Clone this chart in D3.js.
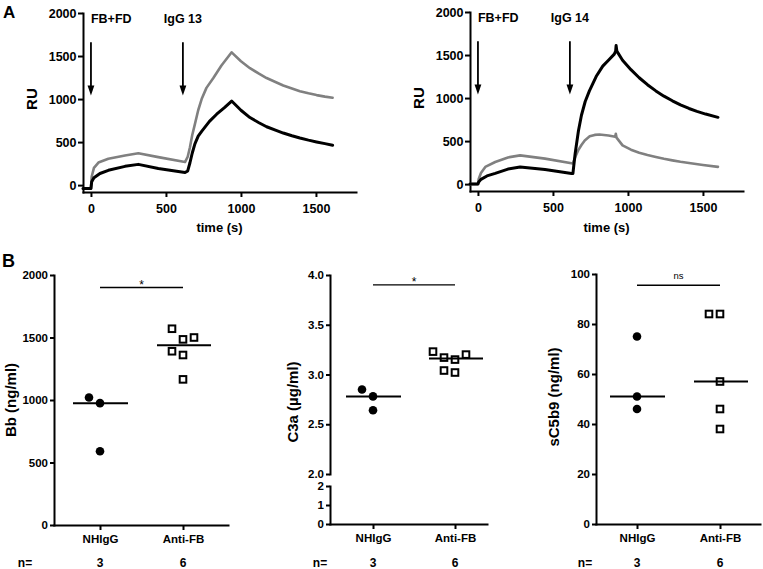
<!DOCTYPE html>
<html><head><meta charset="utf-8">
<script src="https://cdn.jsdelivr.net/npm/d3@7"></script>
<style>
body{margin:0;background:#fff;}
</style></head>
<body><svg id="c" width="763" height="569" xmlns="http://www.w3.org/2000/svg"></svg>
<script>
// ================= DATA =================
// Panel A: SPR sensorgrams (time in s, response in RU)
const timeTicks = [0, 500, 1000, 1500];
const ruTicks = [0, 500, 1000, 1500, 2000];
const injectTimes = [0, 613];
const injectLabels13 = ["FB+FD", "IgG 13"];
const injectLabels14 = ["FB+FD", "IgG 14"];

const igg13GrayT  = [-53, 0, 5, 20, 50, 116, 227, 316, 449, 627, 645, 660, 675, 693, 715, 738, 770, 816, 870, 938, 1000, 1060, 1120, 1171, 1230, 1282, 1340, 1393, 1450, 1504, 1560, 1611];
const igg13GrayRU = [-40, -40, 100, 200, 262, 307, 345, 371, 325, 268, 330, 440, 580, 709, 870, 1000, 1130, 1245, 1390, 1543, 1440, 1359, 1295, 1244, 1198, 1157, 1122, 1092, 1067, 1046, 1028, 1015];
const igg13BlackT  = [-53, 0, 5, 20, 60, 116, 227, 316, 449, 627, 645, 660, 675, 693, 715, 738, 790, 838, 890, 938, 1000, 1060, 1120, 1171, 1230, 1282, 1340, 1393, 1450, 1504, 1560, 1611];
const igg13BlackRU = [-40, -40, 40, 85, 135, 172, 218, 241, 192, 146, 165, 260, 370, 480, 570, 625, 740, 824, 900, 977, 870, 785, 725, 678, 638, 605, 574, 548, 523, 502, 482, 463];

const igg14BlackT  = [-53, 0, 5, 20, 60, 115, 200, 281, 447, 624, 633, 648, 670, 690, 715, 743, 788, 832, 870, 909, 918, 921, 926, 964, 1020, 1075, 1130, 1186, 1240, 1296, 1350, 1407, 1460, 1518, 1600];
const igg14BlackRU = [0, 0, 25, 55, 95, 125, 175, 200, 169, 123, 123, 354, 620, 800, 960, 1083, 1250, 1371, 1440, 1510, 1545, 1610, 1545, 1440, 1330, 1236, 1155, 1083, 1022, 968, 920, 879, 845, 814, 776];
const igg14GrayT  = [-53, 0, 5, 20, 49, 115, 200, 281, 447, 633, 650, 668, 690, 712, 745, 778, 810, 870, 915, 919, 924, 964, 1020, 1075, 1130, 1186, 1240, 1296, 1350, 1407, 1500, 1600];
const igg14GrayRU = [0, 0, 60, 130, 200, 257, 310, 334, 296, 240, 320, 392, 455, 507, 555, 572, 576, 565, 550, 585, 540, 450, 400, 365, 338, 315, 294, 276, 260, 246, 222, 200];

// Panel B: scatter with medians
const groups = ["NHIgG", "Anti-FB"];
const nCounts = [3, 6];
const yTitles = ["Bb (ng/ml)", "C3a (\u00b5g/ml)", "sC5b9 (ng/ml)"];
const bbNHIgG = [975, 590, 1020];
const bbAntiFB = [1485, 1360, 1165, 1570, 1500, 1390];
const c3aNHIgG = [2.78, 2.64, 2.85];
const c3aAntiFB = [3.15, 3.02, 3.17, 3.20, 3.23, 3.04];
const sc5b9NHIgG = [75, 51, 46];
const sc5b9AntiFB = [84, 84, 57, 46, 38];
const sigLevels = [1900, 3.9, 95.5];
const sigTexts = ["*", "*", "ns"];
const bbTicks = [0, 500, 1000, 1500, 2000];
const c3aTicksLow = [0, 1, 2];
const c3aTicksHigh = [2.0, 2.5, 3.0, 3.5, 4.0];
const sc5b9Ticks = [0, 20, 40, 60, 80, 100];

// ================= DRAWING =================
const FONT = '"Liberation Sans", Arial, Helvetica, sans-serif';
const svg = d3.select("#c");
svg.append("rect").attr("width", 763).attr("height", 569).attr("fill", "#fff");

function styleAxis(g, fs) {
  g.selectAll("path,line").attr("stroke", "#000").attr("stroke-width", 2);
  g.select(".domain").attr("stroke-linecap", "square");
  g.selectAll("text").attr("font-size", fs).attr("font-weight", "bold")
    .attr("fill", "#000").attr("font-family", FONT);
}
function txt(x, y, s, fs, opt = {}) {
  const t = svg.append("text").attr("x", x).attr("y", y).text(s)
    .attr("font-family", FONT).attr("font-size", fs)
    .attr("font-weight", opt.weight || "bold").attr("fill", "#000")
    .attr("text-anchor", opt.anchor || "start");
  if (opt.rotate) t.attr("transform", `rotate(-90,${x},${y})`);
  return t;
}

// ---- Panel A ----
function sensorPanel(L, series, labels) {
  const x = d3.scaleLinear().domain([-53, 1767]).range(L.xr);
  const y = d3.scaleLinear().domain([-80, 2000]).range(L.yr);
  const gx = svg.append("g").attr("transform", `translate(0,${L.yr[0]})`)
    .call(d3.axisBottom(x).tickValues(timeTicks).tickSize(5).tickSizeOuter(0).tickPadding(7).tickFormat(d3.format("d")));
  styleAxis(gx, 12.5);
  const gy = svg.append("g").attr("transform", `translate(${L.xr[0]},0)`)
    .call(d3.axisLeft(y).tickValues(ruTicks).tickSize(5).tickSizeOuter(0).tickPadding(1.5).tickFormat(d3.format("d")));
  styleAxis(gy, 12.5);

  const line = d3.line().x(d => x(d[0])).y(d => y(d[1]));
  series.forEach(s => {
    svg.append("path").datum(d3.zip(s.t, s.v)).attr("d", line)
      .attr("fill", "none").attr("stroke", s.color).attr("stroke-width", s.w)
      .attr("stroke-linejoin", "round").attr("stroke-linecap", "round");
  });

  injectTimes.forEach((t, i) => {
    const ax = x(t), top = y(1660), tip = y(1040);
    svg.append("line").attr("x1", ax).attr("x2", ax).attr("y1", top).attr("y2", tip - 8)
      .attr("stroke", "#000").attr("stroke-width", 1.8);
    svg.append("path").attr("d", `M${ax - 3.4},${tip - 10}L${ax + 3.4},${tip - 10}L${ax},${tip}Z`).attr("fill", "#000");
    txt(ax, y(1884), labels[i], 12.5, { anchor: i === 0 ? "start" : "middle" });
  });

  txt(L.ruX, y(1000), "RU", 15, { anchor: "middle", rotate: true });
  txt((L.xr[0] + L.xr[1]) / 2, 232, "time (s)", 13, { anchor: "middle" });
}

sensorPanel({ xr: [83, 356], yr: [192, 13], ruX: 37 },
  [{ t: igg13GrayT, v: igg13GrayRU, color: "#808080", w: 2.6 },
   { t: igg13BlackT, v: igg13BlackRU, color: "#000", w: 3 }], injectLabels13);
sensorPanel({ xr: [470, 743], yr: [191, 12], ruX: 424 },
  [{ t: igg14GrayT, v: igg14GrayRU, color: "#808080", w: 2.6 },
   { t: igg14BlackT, v: igg14BlackRU, color: "#000", w: 3 }], injectLabels14);

txt(3, 18, "A", 17);
txt(2, 267, "B", 18);

// ---- Panel B ----
function swarm(values, yfn, spacing, minGap) {
  const placed = [];
  return values.map(v => {
    const py = yfn(v);
    for (const s of [0, -1, 1, -2, 2, -3, 3]) {
      if (!placed.some(p => p.s === s && Math.abs(p.py - py) < minGap)) {
        placed.push({ s, py }); return s * spacing;
      }
    }
    return 0;
  });
}

function dotPanel(L, segs, data, sigLevel, sigText, title) {
  const scales = segs.map(s => d3.scaleLinear().domain(s.d).range(s.r));
  const yfn = v => {
    for (let i = scales.length - 1; i >= 0; i--) if (v >= segs[i].d[0]) return scales[i](v);
    return scales[0](v);
  };
  segs.forEach((s, i) => {
    const g = svg.append("g").attr("transform", `translate(${L.xr[0]},0)`)
      .call(d3.axisLeft(scales[i]).tickValues(s.ticks).tickSize(4).tickSizeOuter(0).tickPadding(2).tickFormat(d3.format(s.fmt)));
    styleAxis(g, 11.5);
  });
  const x0 = d3.scaleLinear().domain([0, 1]).range(L.cat);
  const x = x0.copy().domain([x0.invert(L.xr[0]), x0.invert(L.xr[1])]).range(L.xr);
  const axisY = segs[0].r[0];
  const gx = svg.append("g").attr("transform", `translate(0,${axisY})`)
    .call(d3.axisBottom(x).tickValues([0, 1]).tickSize(5).tickSizeOuter(0).tickPadding(5).tickFormat(i => groups[i]));
  styleAxis(gx, 11.5);

  data.forEach((vals, gi) => {
    const offs = swarm(vals, yfn, 11, 11);
    const cx = x(gi);
    vals.forEach((v, k) => {
      if (gi === 0) {
        svg.append("circle").attr("cx", cx + offs[k]).attr("cy", yfn(v)).attr("r", 4.3).attr("fill", "#000");
      } else {
        svg.append("rect").attr("x", cx + offs[k] - 3.3).attr("y", yfn(v) - 3.3)
          .attr("width", 6.6).attr("height", 6.6).attr("fill", "#fff")
          .attr("stroke", "#000").attr("stroke-width", 2);
      }
    });
    const med = d3.median(vals);
    svg.append("line").attr("x1", cx - 27 + (gi ? 1 : 0)).attr("x2", cx + 28).attr("y1", yfn(med)).attr("y2", yfn(med))
      .attr("stroke", "#000").attr("stroke-width", 2);
  });

  const sy = yfn(sigLevel);
  svg.append("line").attr("x1", x(0)).attr("x2", x(1)).attr("y1", sy).attr("y2", sy)
    .attr("stroke", "#000").attr("stroke-width", 1.3);
  if (sigText === "*") txt((x(0) + x(1)) / 2, sy + 1.5, sigText, 12, { anchor: "middle", weight: "normal" });
  else txt((x(0) + x(1)) / 2, sy - 6, sigText, 9.5, { anchor: "middle", weight: "normal" });

  txt(L.titleX, L.titleY, title, 15, { anchor: "middle", rotate: true });
  txt(L.nX, 567, "n=", 12, { anchor: "middle" });
  nCounts.forEach((n, i) => txt(x(i), 567, String(n), 12, { anchor: "middle" }));
}

dotPanel({ xr: [54, 228], cat: [100, 183], titleX: 16, titleY: 400, nX: 25 },
  [{ d: [0, 2000], r: [525, 275], ticks: bbTicks, fmt: "d" }],
  [bbNHIgG, bbAntiFB], sigLevels[0], sigTexts[0], yTitles[0]);
dotPanel({ xr: [330, 487], cat: [373, 455], titleX: 298, titleY: 402, nX: 320 },
  [{ d: [0, 2], r: [524, 486], ticks: c3aTicksLow, fmt: "d" },
   { d: [2, 4], r: [474, 275], ticks: c3aTicksHigh, fmt: ".1f" }],
  [c3aNHIgG, c3aAntiFB], sigLevels[1], sigTexts[1], yTitles[1]);
dotPanel({ xr: [596, 760], cat: [637, 720], titleX: 559, titleY: 397, nX: 585 },
  [{ d: [0, 100], r: [524, 274], ticks: sc5b9Ticks, fmt: "d" }],
  [sc5b9NHIgG, sc5b9AntiFB], sigLevels[2], sigTexts[2], yTitles[2]);
</script>
</body></html>
